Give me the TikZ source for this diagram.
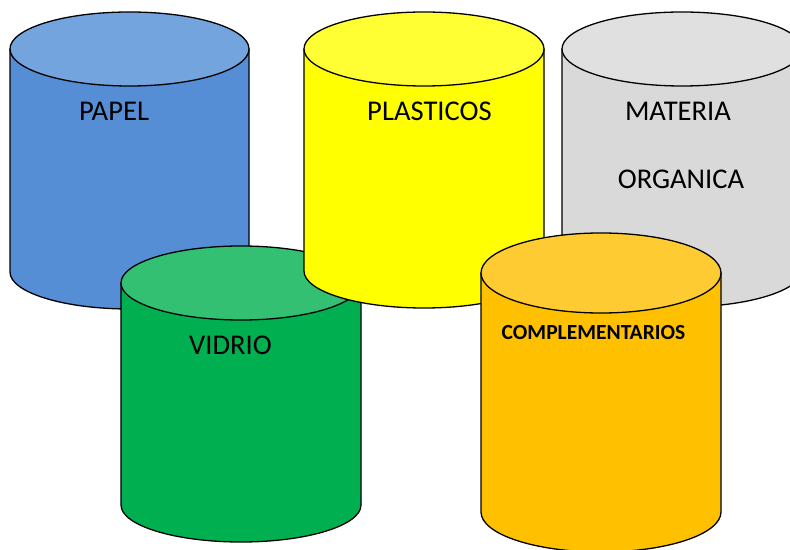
\documentclass[tikz,border=0pt]{standalone}
\usepackage{fontspec}
\setmainfont{Carlito}
\definecolor{bluebody}{RGB}{85,142,213}
\definecolor{bluetop}{RGB}{116,164,222}
\definecolor{yelbody}{RGB}{255,255,0}
\definecolor{yeltop}{RGB}{255,255,51}
\definecolor{graybody}{RGB}{217,217,217}
\definecolor{graytop}{RGB}{224,224,224}
\definecolor{grnbody}{RGB}{0,176,80}
\definecolor{grntop}{RGB}{51,192,115}
\definecolor{orgbody}{RGB}{255,192,0}
\definecolor{orgtop}{RGB}{255,203,51}
\tikzset{
  cylline/.style={draw=black, line width=1.3pt, line join=round},
  lbl/.style={anchor=base, inner sep=0pt, font=\fontsize{28.6}{30}\selectfont, text=black},
  lblbold/.style={anchor=base, inner sep=0pt, font=\fontsize{21.5}{23}\selectfont\bfseries, text=black}
}
% #1 cx, #2 top cy, #3 bottom cy, #4 rx, #5 ry, #6 body colour, #7 top colour
\newcommand\drawcyl[7]{%
  \filldraw[cylline, fill=#6] ({#1-#4}, #2) -- ({#1-#4}, #3)
     arc[start angle=180, end angle=360, x radius=#4, y radius=#5]
     -- ({#1+#4}, #2) -- cycle;
  \filldraw[cylline, fill=#7] (#1, #2) ellipse[x radius=#4, y radius=#5];
}
\begin{document}
\begin{tikzpicture}[x=1pt, y=1pt]
\useasboundingbox (0,0) rectangle (790,549);
\begin{scope}
\clip (0,0) rectangle (790,549);
% PAPEL (blue)
\drawcyl{129.5}{500}{277}{119.5}{37}{bluebody}{bluetop}
% VIDRIO (green)
\drawcyl{241}{266}{44}{120}{37}{grnbody}{grntop}
% PLASTICOS (yellow)
\drawcyl{424}{500}{278}{120}{37}{yelbody}{yeltop}
% MATERIA ORGANICA (gray)
\drawcyl{682}{500}{279}{120}{37}{graybody}{graytop}
% COMPLEMENTARIOS (orange)
\drawcyl{601}{276}{37}{120}{40}{orgbody}{orgtop}
\end{scope}
\node[lbl] (papel) at (114, 428.3) {PAPEL};
\node[lbl] (plasticos) at (429.5, 428.3) {PLASTICOS};
\node[lbl] (materia) at (678, 428.3) {MATERIA};
\node[lbl] (organica) at (681, 360.7) {ORGANICA};
\node[lbl] (vidrio) at (230.5, 194) {VIDRIO};
\node[lblbold] (compl) at (593.5, 209.7) {COMPLEMENTARIOS};
\end{tikzpicture}
\end{document}
